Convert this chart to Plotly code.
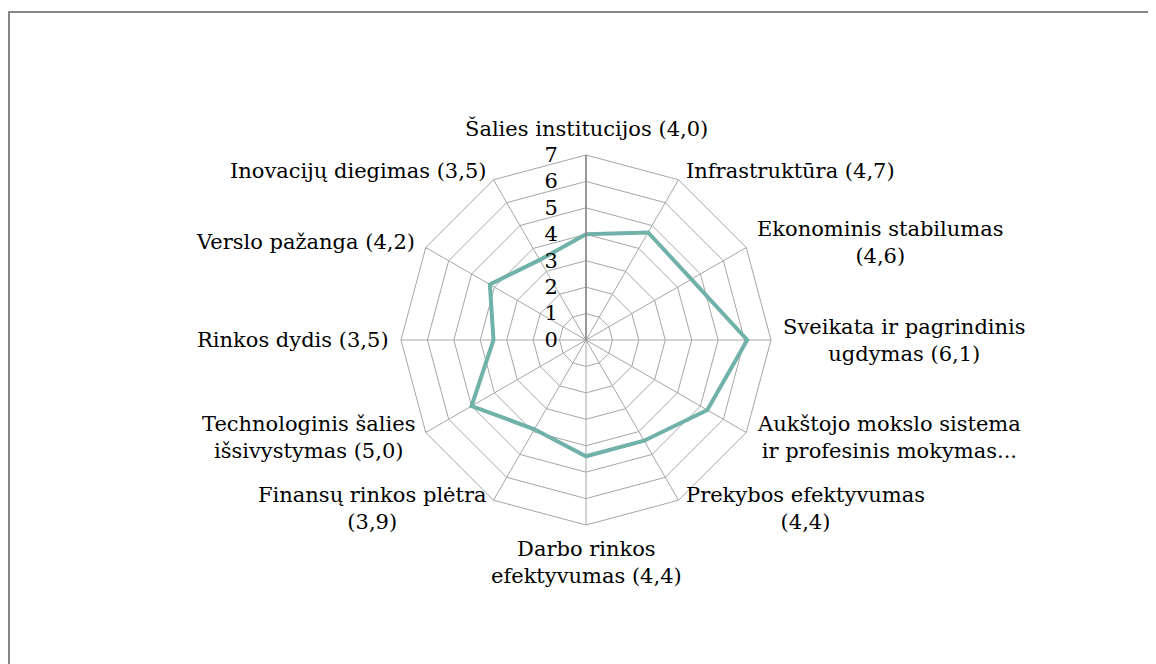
import math
import plotly.graph_objects as go

categories = [
    "Šalies institucijos",
    "Infrastruktūra",
    "Ekonominis stabilumas",
    "Sveikata ir pagrindinis ugdymas",
    "Aukštojo mokslo sistema ir profesinis mokymas",
    "Prekybos efektyvumas",
    "Darbo rinkos efektyvumas",
    "Finansų rinkos plėtra",
    "Technologinis šalies išsivystymas",
    "Rinkos dydis",
    "Verslo pažanga",
    "Inovacijų diegimas",
]
label_texts = [
    "Šalies institucijos (4,0)",
    "Infrastruktūra (4,7)",
    "Ekonominis stabilumas<br>(4,6)",
    "Sveikata ir pagrindinis<br>ugdymas (6,1)",
    "Aukštojo mokslo sistema<br>ir profesinis mokymas...",
    "Prekybos efektyvumas<br>(4,4)",
    "Darbo rinkos<br>efektyvumas (4,4)",
    "Finansų rinkos plėtra<br>(3,9)",
    "Technologinis šalies<br>išsivystymas (5,0)",
    "Rinkos dydis (3,5)",
    "Verslo pažanga (4,2)",
    "Inovacijų diegimas (3,5)",
]
values = [4.0, 4.7, 4.6, 6.1, 5.3, 4.4, 4.4, 3.9, 5.0, 3.5, 4.2, 3.5]
radial_ticks = [0, 1, 2, 3, 4, 5, 6, 7]

W, H = 1156, 664
OFF = 8  # page body margin
cx, cy, R = 586 - OFF, 340 - OFF, 185
FONT = "DejaVu Serif, Liberation Serif, serif"
FS = 21

fig = go.Figure()
fig.add_trace(go.Scatterpolar(
    r=values + values[:1],
    theta=categories + categories[:1],
    mode="lines",
    line=dict(color="#70B2A9", width=4),
    hoverinfo="skip",
    showlegend=False,
))

# category labels placed just outside each polygon vertex
annotations = []
n = len(categories)
for i, txt in enumerate(label_texts):
    a = math.radians(i * 360.0 / n)
    s, c = math.sin(a), math.cos(a)
    if abs(s) < 1e-6:
        gap = 12 if c > 0 else 10
        xa, ya = "center", ("bottom" if c > 0 else "top")
    else:
        gap = 10
        xa, ya = ("left" if s > 0 else "right"), "middle"
    x = cx + (R + gap) * s
    y = cy - (R + gap) * c
    annotations.append(dict(
        x=x / W, y=1 - y / H, xref="paper", yref="paper",
        text=txt, showarrow=False, xanchor=xa, yanchor=ya, align="center",
        font=dict(family=FONT, size=FS, color="#000000"),
    ))

fig.update_layout(
    width=W, height=H,
    margin=dict(l=0, r=0, t=0, b=0),
    paper_bgcolor="white",
    plot_bgcolor="white",
    font=dict(family=FONT, size=FS, color="#000000"),
    annotations=annotations,
    polar=dict(
        domain=dict(x=[(cx - R) / W, (cx + R) / W], y=[(H - cy - R) / H, (H - cy + R) / H]),
        gridshape="linear",
        bgcolor="white",
        radialaxis=dict(
            range=[0, 7],
            tickvals=radial_ticks,
            ticktext=[str(v) for v in radial_ticks],
            angle=90,
            tickangle=90,
            side="counterclockwise",
            showline=True,
            linecolor="#868686",
            linewidth=1.5,
            gridcolor="#A6A6A6",
            gridwidth=1,
            ticks="outside",
            ticklen=20,
            tickcolor="rgba(0,0,0,0)",
            tickfont=dict(family=FONT, size=FS, color="#000000"),
        ),
        angularaxis=dict(
            direction="clockwise",
            rotation=90,
            gridcolor="#A6A6A6",
            gridwidth=1,
            linecolor="#A6A6A6",
            linewidth=1,
            showline=True,
            ticks="",
            showticklabels=False,
        ),
    ),
    shapes=[dict(
        type="rect", xref="paper", yref="paper",
        x0=1 / W, x1=(1153 - OFF) / W, y0=-0.05, y1=(H - (12 - OFF)) / H,
        line=dict(color="#868686", width=2),
        fillcolor="rgba(0,0,0,0)",
    )],
)

fig.write_html("out.html")
